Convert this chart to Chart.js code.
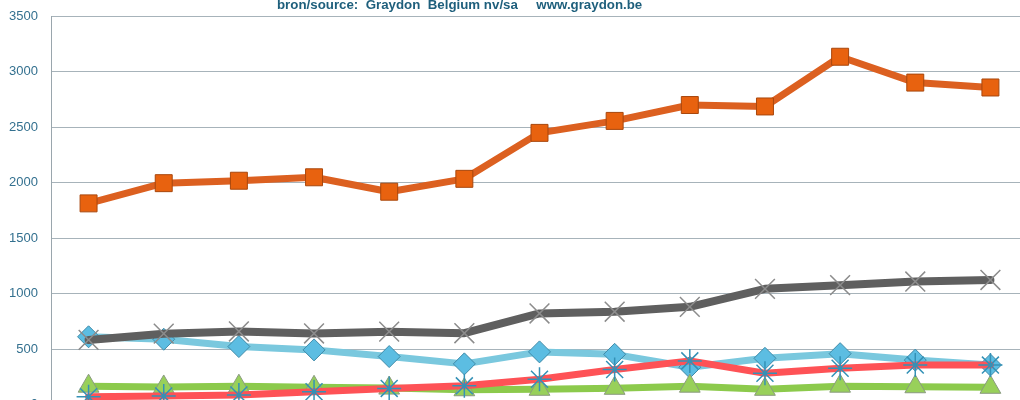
<!DOCTYPE html>
<html>
<head>
<meta charset="utf-8">
<script src="https://cdn.jsdelivr.net/npm/chart.js@4"></script>
<style>
  html, body { margin: 0; padding: 0; background: #fff; overflow: hidden; }
  #wrap { position: absolute; left: 0; top: 0; width: 1030px; height: 420px; }
  #title {
    position: absolute; left: 277px; top: -3px;
    font: bold 13.3px "Liberation Sans", Arial, sans-serif;
    color: #1e5f7c; white-space: pre;
  }
</style>
</head>
<body>
<div id="wrap">
  <canvas class="chart1" width="1030" height="420"></canvas>
  <div id="title">bron/source:  Graydon  Belgium nv/sa     www.graydon.be</div>
</div>
<script>
const categories = ["1", "2", "3", "4", "5", "6", "7", "8", "9", "10", "11", "12", "13"];
const yTicks = [0, 500, 1000, 1500, 2000, 2500, 3000, 3500];

const orangeValues = [1812, 1994, 2016, 2047, 1917, 2033, 2447, 2555, 2698, 2685, 3133, 2900, 2856];
const greyValues   = [582, 638, 658, 640, 656, 642, 820, 836, 880, 1042, 1075, 1108, 1122];
const blueValues   = [610, 588, 522, 492, 432, 366, 474, 452, 336, 416, 458, 400, 356];
const greenValues  = [165, 158, 165, 155, 148, 133, 137, 146, 165, 137, 165, 160, 155];
const redValues    = [70, 77, 86, 115, 145, 168, 228, 316, 393, 282, 326, 355, 355];

const charts = document.querySelectorAll(".chart1");

charts.forEach(function (chart) {
    var ctx = chart.getContext("2d");
    var myChart = new Chart(ctx, {
        type: "line",
        data: {
            labels: categories,
            datasets: [
                {
                    label: "oranje",
                    data: orangeValues,
                    borderColor: "#dc6020",
                    borderWidth: 7,
                    pointStyle: "rect",
                    pointRadius: 12,
                    pointBackgroundColor: "#e8620f",
                    pointBorderColor: "#a8470d",
                    pointBorderWidth: 1,
                    order: 1,
                },
                {
                    label: "rood",
                    data: redValues,
                    borderColor: "#fe5256",
                    borderWidth: 7,
                    pointStyle: "star",
                    pointRadius: 12,
                    pointBorderColor: "#3491b6",
                    pointBorderWidth: 1.5,
                    order: 2,
                },
                {
                    label: "grijs",
                    data: greyValues,
                    borderColor: "#5f5f5f",
                    borderWidth: 8,
                    pointStyle: "crossRot",
                    pointRadius: 14,
                    pointBorderColor: "#8c8c8c",
                    pointBorderWidth: 1.5,
                    order: 3,
                },
                {
                    label: "groen",
                    data: greenValues,
                    borderColor: "#8cca4c",
                    borderWidth: 7,
                    pointStyle: "triangle",
                    pointRadius: 12,
                    pointBackgroundColor: "#98d05a",
                    pointBorderColor: "#8a9a80",
                    pointBorderWidth: 1,
                    order: 4,
                },
                {
                    label: "blauw",
                    data: blueValues,
                    borderColor: "#7ac8de",
                    borderWidth: 7,
                    pointStyle: "rectRot",
                    pointRadius: 11,
                    pointBackgroundColor: "#5cbde2",
                    pointBorderColor: "#3f8aa8",
                    pointBorderWidth: 1,
                    order: 5,
                },
            ],
        },
        options: {
            responsive: false,
            animation: false,
            layout: {
                autoPadding: false,
                padding: { left: 0, right: 2, top: 16, bottom: 15.5 },
            },
            plugins: {
                legend: { display: false },
                title: { display: false },
                tooltip: { enabled: false },
            },
            elements: {
                line: { tension: 0, borderCapStyle: "round", borderJoinStyle: "round" },
            },
            scales: {
                x: {
                    display: false,
                    offset: true,
                },
                y: {
                    min: 0,
                    max: 3500,
                    afterFit: function (scale) { scale.width = 51; },
                    afterBuildTicks: function (scale) {
                        scale.ticks = yTicks.map(function (v) { return { value: v }; });
                    },
                    ticks: {
                        padding: 0,
                        color: "#33708f",
                        font: { family: "'Liberation Sans', Arial, sans-serif", size: 13 },
                        callback: function (value) { return String(value); },
                    },
                    grid: {
                        color: "#a7b3ba",
                        drawTicks: true,
                        tickLength: 13,
                        tickColor: "rgba(0,0,0,0)",
                    },
                    border: { color: "#9aa6ad", width: 1 },
                },
            },
        },
    });
});
</script>
</body>
</html>
